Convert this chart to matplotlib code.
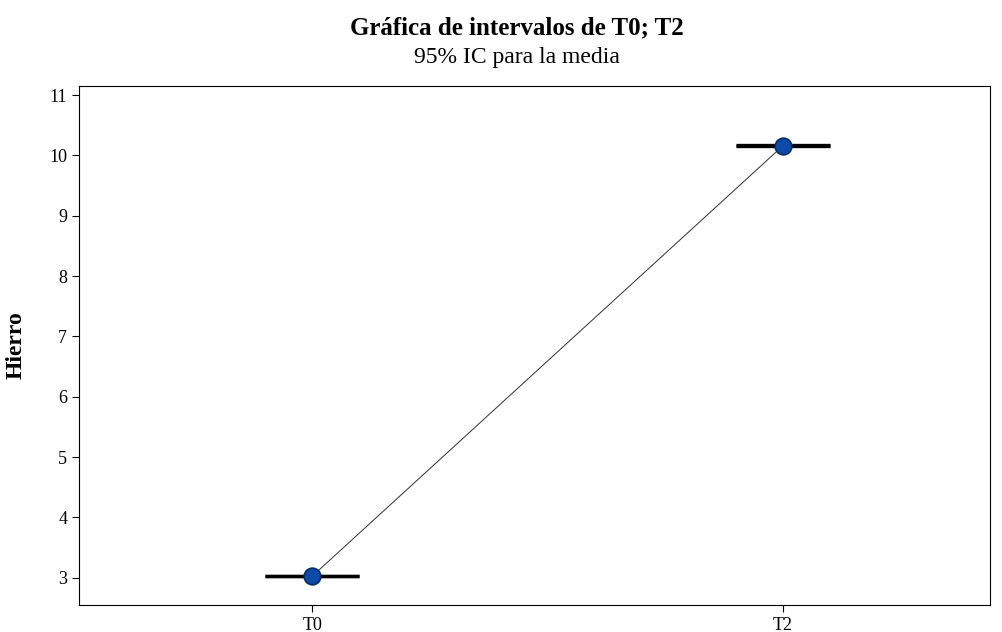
import numpy as np
import matplotlib.pyplot as plt

# Data
groups = ["T0", "T2"]
means = [3.03, 10.16]
ci_half = [0.006, 0.006]
yticks = [3, 4, 5, 6, 7, 8, 9, 10, 11]

plt.rcParams['font.family'] = ['Liberation Serif', 'DejaVu Serif']

fig = plt.figure(figsize=(10.03, 6.32), dpi=100)
ax = fig.add_axes([79 / 1003, 1 - 605 / 632, 911 / 1003, 519 / 632])

x = np.arange(1, len(groups) + 1)

# connecting line between means
ax.plot(x, means, color="#303030", linewidth=0.7, zorder=2)

# confidence intervals
ax.errorbar(x, means, yerr=ci_half, fmt="none", ecolor="black",
            elinewidth=1.5, capsize=34, capthick=2.4, zorder=3)

# mean markers
ax.plot(x, means, "o", markersize=12, markerfacecolor="#0d4aa6",
        markeredgecolor="#0a2b63", markeredgewidth=1.2, zorder=4)

ax.set_xlim(0.504, 2.44)
ax.set_ylim(2.55, 11.15)
ax.set_xticks(x)
ax.set_xticklabels(groups, fontsize=13)
ax.set_yticks(yticks)
ax.tick_params(axis="y", labelsize=13, length=5, width=0.8)
ax.tick_params(axis="x", length=5, width=0.8)
for s in ax.spines.values():
    s.set_linewidth(0.8)

ax.set_ylabel("Hierro", fontsize=17, fontweight="bold")
ax.yaxis.set_label_coords(-0.057, 0.5)

fig.text(0.515, 1 - 34 / 632, "Gráfica de intervalos de T0; T2", ha="center",
         va="baseline", fontsize=18, fontweight="bold")
fig.text(0.515, 1 - 63 / 632, "95% IC para la media", ha="center",
         va="baseline", fontsize=17)

fig.savefig("out.png", dpi=100)
